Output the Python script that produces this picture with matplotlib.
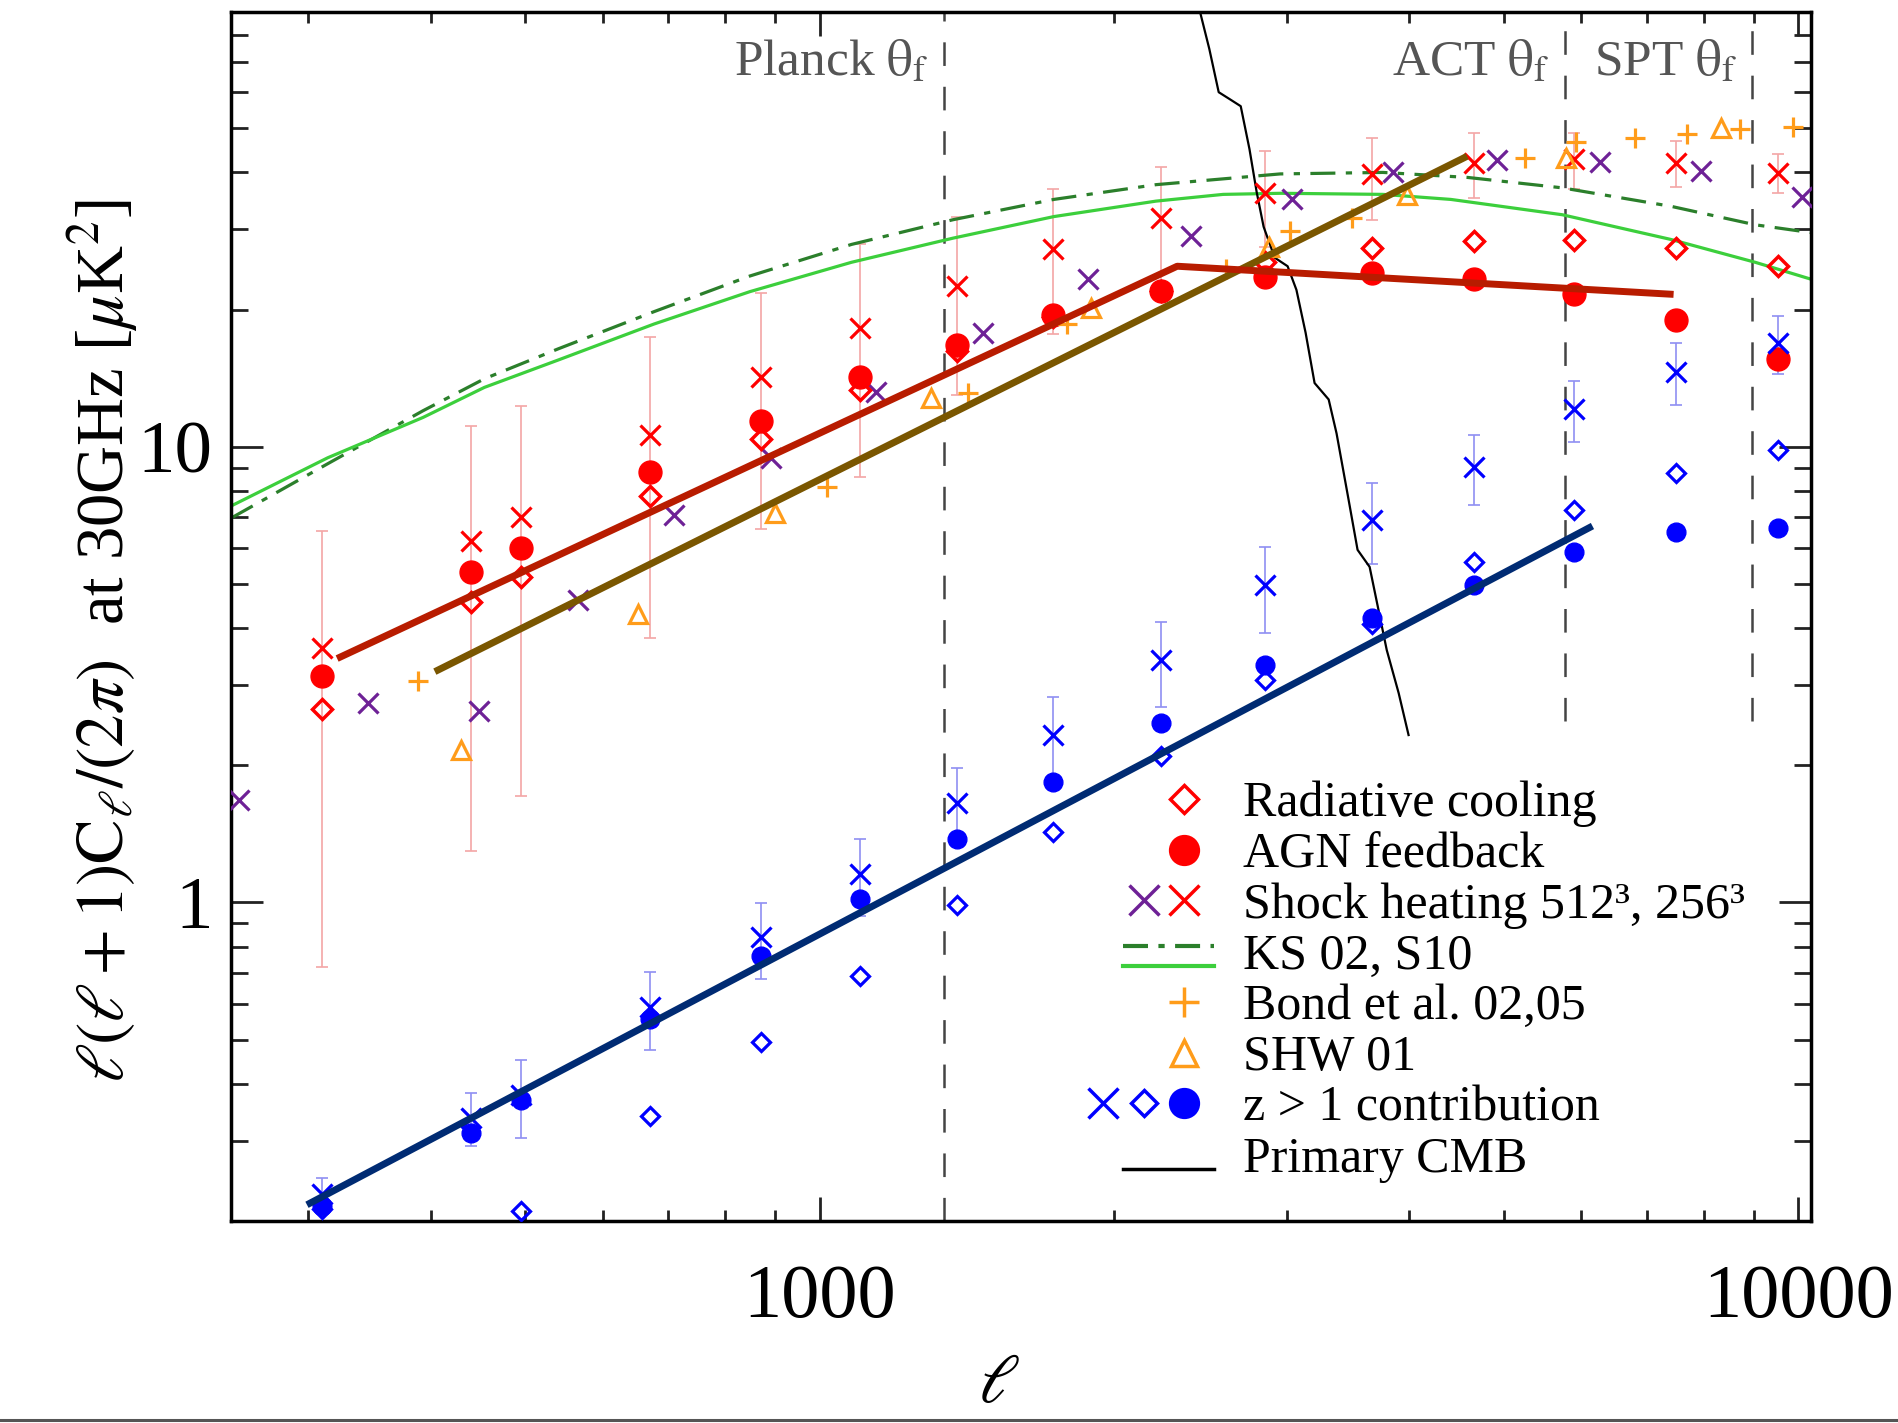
"""tSZ angular power spectrum at 30 GHz - simulations vs. analytic models"""
import numpy as np, matplotlib
matplotlib.use('Agg')
import matplotlib.pyplot as plt
from matplotlib.lines import Line2D
from matplotlib.legend_handler import HandlerBase
from matplotlib.ticker import LogLocator, FuncFormatter, NullFormatter

plt.rcParams.update({'font.family': 'Liberation Serif', 'mathtext.fontset': 'stix',
                     'lines.scale_dashes': False, 'axes.linewidth': 2.5})

RED = '#ff0000'; PURPLE = '#6e2196'; ORANGE = '#ff9c1a'; BLUE = '#0000ff'
DKGREEN = '#2b7f2b'; LTGREEN = '#3ccf3c'; PINK = '#f4a6a6'; LTBLUE = '#8f8ff2'
KS_DASH = (18, 7.5, 4.5, 7.5)

# simulation bins (256^3 runs)
ell = [310, 440, 495, 670, 870, 1100, 1380, 1730, 2230, 2850, 3670, 4660, 5900, 7500, 9530]
rad_cool = [2.66, 4.56, 5.19, 7.78, 10.4, 13.3, 16.2, 19.3, 22.0, 25.4, 27.3, 28.3, 28.5, 27.3, 24.9]
agn = [3.14, 5.32, 6.01, 8.79, 11.4, 14.2, 16.7, 19.5, 22.0, 23.6, 24.1, 23.3, 21.6, 19.0, 15.6]
shock256 = [3.62, 6.20, 7.01, 10.6, 14.2, 18.2, 22.5, 27.2, 31.8, 36.0, 39.6, 42.0, 42.8, 42.0, 39.9]
shock256_err = [2.9, 4.9, 5.3, 6.8, 7.6, 9.6, 9.5, 9.5, 9.4, 8.6, 8.1, 6.9, 6.1, 4.8, 3.9]
# z > 1 contribution
hiz_shock = [0.229, 0.337, 0.377, 0.589, 0.838, 1.157, 1.65, 2.33, 3.40, 4.97, 6.92, 9.04, 12.1, 14.6, 16.9]
hiz_shock_err = [0.02, 0.045, 0.073, 0.115, 0.16, 0.224, 0.32, 0.50, 0.72, 1.06, 1.40, 1.59, 1.86, 2.26, 2.44]
hiz_rad = [0.212, np.nan, 0.210, 0.340, 0.493, 0.691, 0.986, 1.43, 2.10, 3.07, 4.09, 5.59, 7.27, 8.75, 9.82]
hiz_agn = [0.216, 0.312, 0.368, 0.554, 0.762, 1.02, 1.38, 1.84, 2.47, 3.32, 4.21, 4.97, 5.89, 6.51, 6.65]

# 512^3 shock heating run
ell_512 = [255, 345, 448, 566, 710, 892, 1140, 1469, 1877, 2392, 3039, 3849, 4918, 6266, 7962, 10085]
shock512 = [1.68, 2.74, 2.63, 4.62, 7.10, 9.46, 13.2, 17.8, 23.4, 29.0, 34.9, 40.0, 42.7, 42.2, 40.2, 35.4]

# Bond et al. 02,05 and SHW 01
ell_bond = [388, 1017, 1416, 1789, 2598, 3021, 3494, 5253, 5921, 6807, 7692, 8723, 9886]
bond = [3.06, 8.17, 13.1, 18.6, 24.5, 29.8, 31.7, 43.0, 46.6, 47.7, 48.6, 49.8, 50.4]
ell_shw = [430, 652, 900, 1300, 1893, 2879, 3984, 5787, 8332]
shw = [2.16, 4.29, 7.14, 12.8, 20.2, 27.5, 35.6, 43.0, 50.1]

# analytic models KS 02 and S10
ell_ks = [250, 314, 393, 454, 540, 677, 848, 1077, 1368, 1734, 2205, 2954, 3763, 4593, 5738, 7413, 9036, 10318]
ks02 = [6.97, 9.18, 12.0, 14.1, 16.4, 19.8, 23.7, 27.8, 31.5, 34.9, 37.6, 39.7, 40.0, 39.0, 37.0, 33.7, 30.7, 29.5]
ell_s10 = [250, 314, 393, 454, 540, 677, 848, 1077, 1368, 1734, 2205, 2583, 2962, 3763, 4414, 5738, 7413, 9036, 10318]
s10 = [7.41, 9.46, 11.6, 13.5, 15.5, 18.6, 21.9, 25.4, 28.7, 32.0, 34.6, 35.8, 36.0, 35.8, 34.9, 32.3, 28.5, 25.4, 23.3]

# primary CMB damping tail
ell_cmb = [2440, 2500, 2556, 2624, 2692, 2748, 2795, 2841, 2916, 3006, 3069, 3136, 3203, 3311,
           3373, 3470, 3544, 3646, 3796, 3904, 3996]
cmb = [92, 74.7, 60, 57.9, 55.9, 45, 36.2, 30.4, 26.0, 24.9, 22.1, 17.8, 13.8, 12.7,
       10.7, 7.65, 5.94, 5.45, 3.58, 2.88, 2.33]

# hand-drawn power-law guides
fit_red_ell = [321, 2318, 7456]; fit_red = [3.43, 24.9, 21.6]
fit_brown_ell = [404, 4586]; fit_brown = [3.21, 43.4]
fit_navy_ell = [299, 6160]; fit_navy = [0.217, 6.70]

# experiment beam scales
theta_ell = [1340, 5770, 8975]
theta_names = ['Planck', 'ACT', 'SPT']
theta_ymin = [0.2, 2.5, 2.5]

YMAX = 90

fig = plt.figure(figsize=(18.99, 14.23), dpi=100, facecolor='white')
ax = fig.add_axes([0.1216, 0.142, 0.832, 0.8496])
ax.set_xscale('log'); ax.set_yscale('log')
ax.set_xlim(250, 10300); ax.set_ylim(0.2, YMAX)

for l, y0, name in zip(theta_ell, theta_ymin, theta_names):
    ax.plot([l, l], [y0, YMAX], color='#444444', lw=1.8, dashes=(17, 15), zorder=1)
    ax.annotate(name + r' $\mathrm{\theta_f}$', xy=(l, 0.948), xycoords=('data', 'axes fraction'),
                xytext=(-11, 0), textcoords='offset points', ha='right', va='baseline',
                fontsize=37, color='#555555')

ax.plot(ell_ks, ks02, color=DKGREEN, lw=2.3, dashes=KS_DASH, zorder=2)
ax.plot(ell_s10, s10, color=LTGREEN, lw=2.3, zorder=2)
ax.plot(ell_cmb, cmb, color='black', lw=1.6, zorder=2)

ax.errorbar(ell, shock256, yerr=shock256_err, fmt='none', ecolor=PINK, elinewidth=1.2,
            capsize=4, capthick=1.2, zorder=1.5)
ax.errorbar(ell, hiz_shock, yerr=hiz_shock_err, fmt='none', ecolor=LTBLUE, elinewidth=1.2,
            capsize=4, capthick=1.2, zorder=1.5)

ax.plot(ell_512, shock512, ls='none', marker='x', ms=14.5, mew=2.3, color=PURPLE, zorder=3)
ax.plot(ell, shock256, ls='none', marker='x', ms=14.5, mew=2.3, color=RED, zorder=3)
ax.plot(ell, agn, ls='none', marker='o', ms=16.5, color=RED, zorder=3)
ax.plot(ell, rad_cool, ls='none', marker='D', ms=9.8, mfc='none', mec=RED, mew=2.5, zorder=3)
ax.plot(ell_bond, bond, ls='none', marker='+', ms=14, mew=2.3, color=ORANGE, zorder=3)
ax.plot(ell_shw, shw, ls='none', marker='^', ms=13, mfc='none', mec=ORANGE, mew=2.3, zorder=3)
ax.plot(ell, hiz_shock, ls='none', marker='x', ms=14, mew=2.3, color=BLUE, zorder=3)
ax.plot(ell, hiz_agn, ls='none', marker='o', ms=13.5, color=BLUE, zorder=3)
ax.plot(ell, hiz_rad, ls='none', marker='D', ms=9, mfc='none', mec=BLUE, mew=2.3, zorder=3)

ax.plot(fit_brown_ell, fit_brown, color='#7a5600', lw=5, solid_capstyle='butt', zorder=4)
ax.plot(fit_red_ell, fit_red, color='#b81c00', lw=5, solid_capstyle='butt', zorder=4)
ax.plot(fit_navy_ell, fit_navy, color='#002b73', lw=5, solid_capstyle='butt', zorder=4)

# axes styling
for a in (ax.xaxis, ax.yaxis):
    a.set_major_locator(LogLocator(base=10))
    a.set_minor_locator(LogLocator(base=10, subs=np.arange(2, 10)))
    a.set_major_formatter(FuncFormatter(lambda v, p: f'{v:g}'))
    a.set_minor_formatter(NullFormatter())
ax.tick_params(which='both', direction='in', top=True, right=True, width=2, color='#222222')
ax.tick_params(axis='x', which='major', length=17, pad=31, labelsize=55)
ax.tick_params(axis='x', which='minor', length=8)
ax.tick_params(axis='y', which='major', length=23, pad=13, labelsize=54)
ax.tick_params(axis='y', which='minor', length=12)

ax.set_xlabel(r'$\ell$', fontsize=50)
ax.xaxis.set_label_coords(0.486, -0.110)
ax.set_ylabel(r'$\ell(\ell+1)\mathrm{C}_\ell/(2\pi)$  at 30GHz [$\mu$K$^2$]', fontsize=48)
ax.yaxis.label.set_va('center')
ax.yaxis.set_label_coords(-0.081, 0.48)


class Key(HandlerBase):
    """legend key: each sub-handle placed at a fraction of the key box"""
    def __init__(self, spots):
        super().__init__()
        self.spots = spots

    def create_artists(self, legend, orig_handle, xdescent, ydescent, width, height, fontsize, trans):
        arts = []
        yc = (height - ydescent) / 2
        for h, (a, b, dy) in zip(orig_handle, self.spots):
            xs = [-xdescent + a * width, -xdescent + b * width]
            ys = [yc - dy * fontsize] * 2
            if a == b:
                xs, ys = xs[:1], ys[:1]
            ln = Line2D(xs, ys)
            self.update_prop(ln, h, legend)
            ln.set_transform(trans)
            arts.append(ln)
        return arts


def mk(marker, color, ms, filled=False):
    return Line2D([], [], ls='none', marker=marker, ms=ms, mew=2.5,
                  mec=color, mfc=color if filled else 'none')


R, M, L = 0.765, 0.45, 0.124
entries = [
    ((mk('D', RED, 14),), [(R, R, 0)], 'Radiative cooling'),
    ((mk('o', RED, 20, True),), [(R, R, 0)], 'AGN feedback'),
    ((mk('x', PURPLE, 21), mk('x', RED, 21)), [(M, M, 0), (R, R, 0)], 'Shock heating 512³, 256³'),
    ((Line2D([], [], color=DKGREEN, lw=3, dashes=KS_DASH), Line2D([], [], color=LTGREEN, lw=3)),
     [(0.284, 1.0, -0.1), (0.284, 1.0, 0.3)], 'KS 02, S10'),
    ((mk('+', ORANGE, 21),), [(R, R, 0)], 'Bond et al. 02,05'),
    ((mk('^', ORANGE, 19),), [(R, R, 0)], 'SHW 01'),
    ((mk('x', BLUE, 21), mk('D', BLUE, 13), mk('o', BLUE, 20, True)),
     [(L, L, 0), (M, M, 0), (R, R, 0)], 'z > 1 contribution'),
    ((Line2D([], [], color='black', lw=2.5),), [(0.284, 1.0, 0.3)], 'Primary CMB'),
]
handles = [e[0] for e in entries]
labels = [e[2] for e in entries]
hmap = {e[0]: Key(e[1]) for e in entries}
ax.legend(handles, labels, handler_map=hmap, loc='upper left', bbox_to_anchor=(0.5420, 0.364),
          frameon=False, fontsize=36, handlelength=2.54, handletextpad=0.58, labelspacing=0.085,
          borderpad=0, borderaxespad=0)

fig.add_artist(Line2D([0, 1], [0.002, 0.002], transform=fig.transFigure, color='#555555', lw=2.2))

fig.savefig('out.png', dpi=100, facecolor='white')
print("saved out.png")
